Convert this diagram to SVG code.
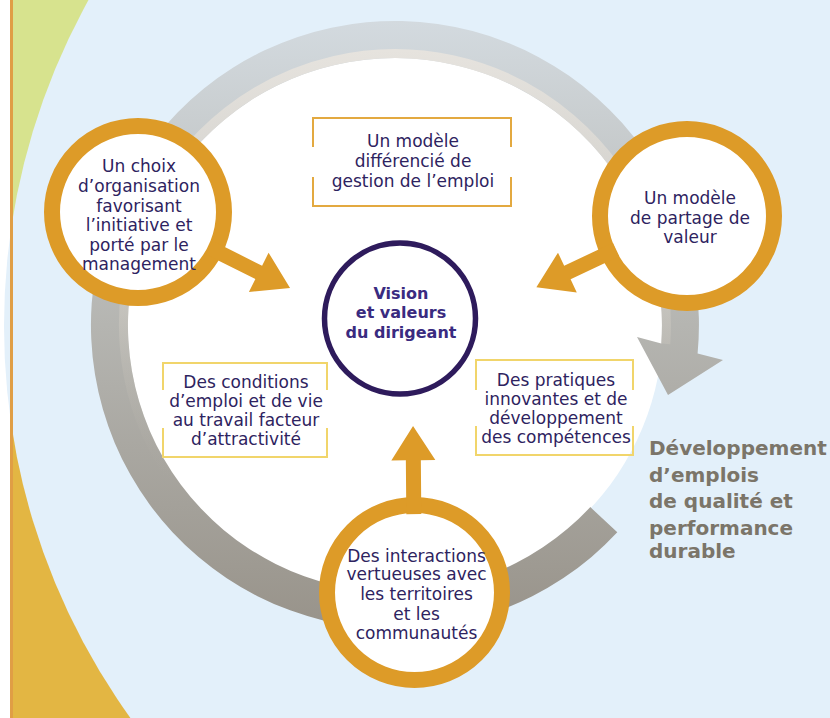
<svg xmlns="http://www.w3.org/2000/svg" width="830" height="718" viewBox="0 0 830 718">
<defs>
<linearGradient id="ringGrad" gradientUnits="userSpaceOnUse" x1="0" y1="21" x2="0" y2="629">
<stop offset="0" stop-color="#d3dadf"/>
<stop offset="0.5" stop-color="#b5b5b1"/>
<stop offset="1" stop-color="#98938a"/>
</linearGradient>
<linearGradient id="bandGrad" gradientUnits="userSpaceOnUse" x1="0" y1="50" x2="0" y2="480">
<stop offset="0" stop-color="#e6e3de" stop-opacity="1"/>
<stop offset="0.6" stop-color="#d2cec6" stop-opacity="0.5"/>
<stop offset="1" stop-color="#b0aca3" stop-opacity="0"/>
</linearGradient>
<path id="arrow" d="M80,-7.5 L135,-7.5 L135,-22 L170,0 L135,22 L135,7.5 L80,7.5 Z"/>
</defs>
<style>
.orange{fill:#fff;stroke:#dd9b28;stroke-width:16}
.arr{fill:#dd9b28}
.center{fill:#fff;stroke:#2e1b5c;stroke-width:5.5}
.box{fill:none;stroke-width:2}
.gold{stroke:#e3a940}
.yel{stroke:#f1d56b}
.t{font-family:"DejaVu Sans",sans-serif;font-size:17px;fill:#2e2360;text-anchor:middle}
.tb{font-family:"DejaVu Sans",sans-serif;font-size:16px;font-weight:bold;fill:#3a2b80;text-anchor:middle}
.out{font-family:"DejaVu Sans",sans-serif;font-size:20px;font-weight:bold;fill:#7b7569}
</style>
<!-- background -->
<rect x="0" y="0" width="830" height="718" fill="#ffffff"/>
<rect x="13" y="0" width="817" height="325" fill="#d7e38e"/>
<rect x="13" y="325" width="817" height="393" fill="#e3b643"/>
<circle cx="675" cy="326" r="671" fill="#e3f0fa"/>
<line x1="11.5" y1="0" x2="11.5" y2="718" stroke="#e09e45" stroke-width="3"/>
<!-- white disk and ring arrow -->
<circle cx="395" cy="325" r="268" fill="#ffffff"/>
<g id="cycle">
<path d="M617.3,532.3 A304,304 0 1 1 697.6,353.6 L723,360 L668,395 L637,337 L661.3,343.6 A267,267 0 1 0 590.3,507.1 Z" fill="url(#ringGrad)"/>
<path d="M593.6,510.2 A271.5,271.5 0 1 1 665.8,343.9" fill="none" stroke="url(#bandGrad)" stroke-width="9"/>
</g>
<!-- boxes -->
<g id="box-gestion">
<path class="box gold" d="M313,147 V118 H511 V147 M313,177 V206 H511 V177"/>
<text class="t" x="413" y="147">Un modèle</text>
<text class="t" x="413" y="166.5">différencié de</text>
<text class="t" x="413" y="186.5">gestion de l’emploi</text>
</g>
<g id="box-conditions">
<path class="box yel" d="M163,390 V363 H327 V390 M163,428 V457 H327 V428"/>
<text class="t" x="246" y="388">Des conditions</text>
<text class="t" x="246" y="407">d’emploi et de vie</text>
<text class="t" x="246" y="426">au travail facteur</text>
<text class="t" x="246" y="445">d’attractivité</text>
</g>
<g id="box-pratiques">
<path class="box yel" d="M476,390 V360 H633 V390 M476,426 V455 H633 V426"/>
<text class="t" x="556" y="386">Des pratiques</text>
<text class="t" x="556" y="405">innovantes et de</text>
<text class="t" x="556" y="424">développement</text>
<text class="t" x="556" y="443">des compétences</text>
</g>
<!-- nodes -->
<g id="node-organisation">
<circle class="orange" cx="138" cy="212" r="86"/>
<text class="t" x="139" y="172">Un choix</text>
<text class="t" x="139" y="192">d’organisation</text>
<text class="t" x="139" y="211.5">favorisant</text>
<text class="t" x="139" y="231">l’initiative et</text>
<text class="t" x="139" y="250.5">porté par le</text>
<text class="t" x="139" y="269.5">management</text>
</g>
<g id="node-partage">
<circle class="orange" cx="687" cy="216" r="87"/>
<text class="t" x="690" y="204">Un modèle</text>
<text class="t" x="690" y="223.5">de partage de</text>
<text class="t" x="690" y="243">valeur</text>
</g>
<g id="node-interactions">
<circle class="orange" cx="414.5" cy="592.5" r="87.5"/>
<text class="t" x="416.5" y="561.5">Des interactions</text>
<text class="t" x="416.5" y="580">vertueuses avec</text>
<text class="t" x="416.5" y="599.5">les territoires</text>
<text class="t" x="416.5" y="620">et les</text>
<text class="t" x="416.5" y="639">communautés</text>
</g>
<g id="node-vision">
<circle class="center" cx="400" cy="318.5" r="75.5"/>
<text class="tb" x="401" y="298.5">Vision</text>
<text class="tb" x="401" y="318">et valeurs</text>
<text class="tb" x="401" y="337.5">du dirigeant</text>
</g>
<!-- connectors -->
<g id="connectors">
<use href="#arrow" class="arr" transform="translate(138,212) rotate(26.57)"/>
<use href="#arrow" class="arr" transform="translate(687,216) rotate(154.7) scale(0.98,1)"/>
<use href="#arrow" class="arr" transform="translate(414.5,592.5) rotate(-90.5) scale(0.98,1)"/>
</g>
<!-- outcome text -->
<g id="outcome">
<text class="out" x="649" y="455">Développement</text>
<text class="out" x="649" y="481.5">d’emplois</text>
<text class="out" x="649" y="508">de qualité et</text>
<text class="out" x="649" y="535">performance</text>
<text class="out" x="649" y="558">durable</text>
</g>
</svg>
